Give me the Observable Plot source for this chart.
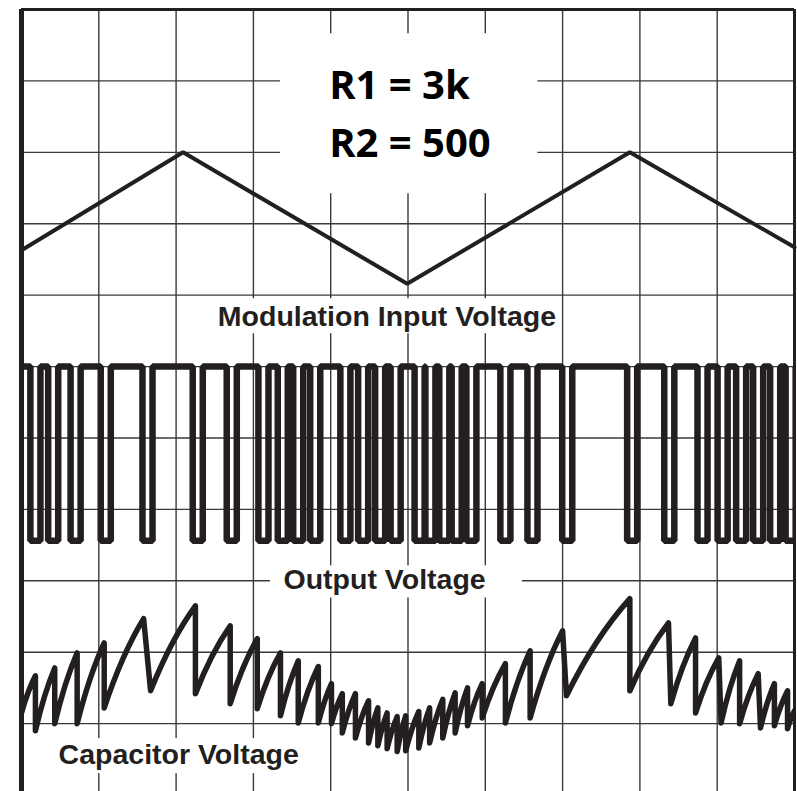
<!DOCTYPE html>
<html>
<head>
<meta charset="utf-8">
<script src="https://cdn.jsdelivr.net/npm/d3@7"></script>
<script src="https://cdn.jsdelivr.net/npm/@observablehq/plot@0.6"></script>
<style>
  html, body { margin: 0; padding: 0; background: #ffffff; }
  #chart svg { display: block; }
</style>
</head>
<body>
<div id="chart"></div>
<script>
// ---- grid (divisions) ----
const gridX = [0, 1, 2, 3, 4, 5, 6, 7, 8, 9, 10];
const gridY = [0, 1, 2, 3, 4, 5, 6, 7, 8, 9, 10];

// ---- Modulation input voltage (triangle), y in divisions from top ----
const triX = [0, 2.09, 4.99, 7.87, 10];
const triY = [3.37, 2.00, 3.84, 2.00, 3.33];

// ---- Output voltage: centres of the low pulses ----
const pulseCenters = [0.18, 0.41, 0.70, 1.09, 1.63, 2.28, 2.72, 3.13, 3.38, 3.58, 3.80,
  4.19, 4.42, 4.64, 4.84, 5.15, 5.29, 5.47, 5.63, 5.82, 6.26, 6.61, 7.06,
  7.90, 8.38, 8.81, 9.07, 9.31, 9.53, 9.75, 9.95];
const pulseWidth = 0.13;
const outHigh = 5.0;
const outLow = 7.44;

// ---- Capacitor voltage: sawtooth peaks and troughs ----
const capStart = [0, 9.85];
const capEnd = [10, 9.82];
const capPeakX   = [0.18, 0.43, 0.72, 1.07, 1.58, 2.25, 2.70, 3.05, 3.35, 3.58, 3.84, 4.01, 4.15, 4.32, 4.49, 4.61, 4.73, 4.86, 4.97, 5.14, 5.28, 5.45, 5.61, 5.77, 5.96, 6.26, 6.58, 7.00, 7.87, 8.37, 8.72, 9.02, 9.29, 9.53, 9.74, 9.91];
const capPeakY   = [9.33, 9.22, 9.01, 8.87, 8.53, 8.35, 8.63, 8.81, 9.01, 9.12, 9.20, 9.44, 9.58, 9.58, 9.68, 9.78, 9.85, 9.90, 9.89, 9.83, 9.78, 9.66, 9.57, 9.50, 9.44, 9.16, 8.98, 8.70, 8.25, 8.59, 8.80, 9.08, 9.12, 9.30, 9.44, 9.54];
const capTroughX = [0.18, 0.43, 0.72, 1.07, 1.67, 2.25, 2.70, 3.05, 3.35, 3.58, 3.84, 4.01, 4.15, 4.32, 4.49, 4.61, 4.73, 4.86, 4.97, 5.14, 5.28, 5.45, 5.61, 5.77, 5.96, 6.26, 6.58, 7.05, 7.87, 8.40, 8.72, 9.05, 9.29, 9.56, 9.74, 9.91];
const capTroughY = [10.10, 10.00, 10.00, 9.78, 9.54, 9.58, 9.72, 9.79, 9.89, 9.99, 9.99, 10.00, 10.13, 10.20, 10.27, 10.31, 10.35, 10.39, 10.38, 10.34, 10.27, 10.20, 10.13, 10.03, 9.92, 9.99, 9.92, 9.61, 9.54, 9.72, 9.85, 9.99, 10.00, 10.06, 10.03, 10.07];

// ---- Text labels ----
const labelText = ["Modulation Input Voltage", "Output Voltage", "Capacitor Voltage"];
const labelX = [2.54, 3.39, 0.48];
const labelY = [4.43, 8.11, 10.57];
const labelBoxes = [
  {x1: 3.35, x2: 6.68, y1: 0.34, y2: 2.58},
  {x1: 2.51, x2: 6.97, y1: 4.05, y2: 4.54},
  {x1: 3.22, x2: 6.48, y1: 7.79, y2: 8.24},
  {x1: 0.44, x2: 3.67, y1: 10.21, y2: 10.70}
];
const resistorText = ["R1 = 3k", "R2 = 500"];
const resistorX = [3.98, 3.98];
const resistorY = [1.26, 2.07];

// ---- build tables ----
const tri = triX.map((x, i) => ({x, y: triY[i]}));

const out = [{x: 0, y: outHigh}];
for (const c of pulseCenters) {
  out.push({x: c - pulseWidth / 2, y: outHigh});
  out.push({x: c - pulseWidth / 2, y: outLow});
  out.push({x: c + pulseWidth / 2, y: outLow});
  out.push({x: c + pulseWidth / 2, y: outHigh});
}
out.push({x: 10, y: outHigh});

const cap = [{x: capStart[0], y: capStart[1]}];
capPeakX.forEach((x, i) => {
  cap.push({x, y: capPeakY[i]});
  cap.push({x: capTroughX[i], y: capTroughY[i]});
});
cap.push({x: capEnd[0], y: capEnd[1]});

const labels = labelText.map((t, i) => ({t, x: labelX[i], y: labelY[i]}));
const resistors = resistorText.map((t, i) => ({t, x: resistorX[i], y: resistorY[i]}));

// charging ramps are drawn slightly bowed; discharges straight
function chargeCurve(context) {
  let px, py, n = 0;
  return {
    areaStart() {}, areaEnd() {},
    lineStart() { n = 0; },
    lineEnd() {},
    point(x, y) {
      x = +x; y = +y;
      if (n++ === 0) context.moveTo(x, y);
      else if (y < py - 0.5 && x > px + 0.5) {
        context.quadraticCurveTo(px + 0.45 * (x - px), py + 0.6 * (y - py), x, y);
      } else context.lineTo(x, y);
      px = x; py = y;
    }
  };
}

const ink = "#231f20";

const chart = Plot.plot({
  width: 797,
  height: 791,
  marginLeft: 21,
  marginRight: 3,
  marginTop: 9,
  marginBottom: 0,
  style: {background: "#ffffff"},
  x: {domain: [0, 10], axis: null},
  y: {domain: [0, 10.95], reverse: true, axis: null},
  marks: [
    Plot.ruleX(gridX, {stroke: "#3a3a3a", strokeWidth: 1.4}),
    Plot.ruleY(gridY, {stroke: "#3a3a3a", strokeWidth: 1.4}),
    Plot.rect(labelBoxes, {x1: "x1", x2: "x2", y1: "y1", y2: "y2", fill: "#ffffff"}),
    Plot.ruleX([0], {stroke: ink, strokeWidth: 5}),
    Plot.ruleX([10], {stroke: ink, strokeWidth: 3}),
    Plot.ruleY([0], {stroke: ink, strokeWidth: 3}),
    Plot.line(tri, {x: "x", y: "y", stroke: ink, strokeWidth: 4, strokeLinejoin: "miter"}),
    Plot.line(out, {x: "x", y: "y", stroke: ink, strokeWidth: 6.5, strokeLinejoin: "miter", strokeLinecap: "butt", clip: true}),
    Plot.line(cap, {x: "x", y: "y", stroke: ink, strokeWidth: 5.5, strokeLinejoin: "round", strokeLinecap: "round", curve: chargeCurve, clip: true}),
    Plot.text(labels, {x: "x", y: "y", text: "t", textAnchor: "start", lineAnchor: "bottom",
      fontFamily: "Liberation Sans, Arial, sans-serif", fontWeight: "bold", fontSize: 28.5, fill: ink}),
    Plot.text(resistors, {x: "x", y: "y", text: "t", textAnchor: "start", lineAnchor: "bottom",
      fontFamily: "Open Sans, sans-serif", fontWeight: "bold", fontSize: 40, fill: "#000000"})
  ]
});
document.getElementById("chart").appendChild(chart);
</script>
</body>
</html>
